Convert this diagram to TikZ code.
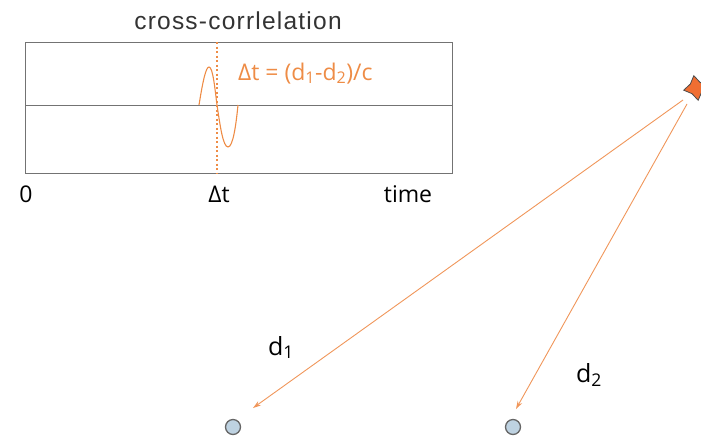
\documentclass[tikz,border=0pt]{standalone}
\usepackage{fontspec}
\setmainfont{Open Sans}
\newfontfamily\ttlfont[LetterSpace=5]{Liberation Sans}
\usetikzlibrary{arrows.meta,shapes.geometric}
\definecolor{org}{RGB}{238,140,70}
\definecolor{rayc}{RGB}{240,150,90}
\definecolor{starfill}{RGB}{240,110,50}
\definecolor{recfill}{RGB}{190,210,225}
\begin{document}
\begin{tikzpicture}[x=1pt,y=-1pt,
  lbl/.style={inner sep=0pt, anchor=base, font=\fontsize{23}{27}\selectfont},
  dlbl/.style={inner sep=0pt, anchor=base, font=\fontsize{25}{29}\selectfont},
  ttl/.style={inner sep=0pt, anchor=base, font=\ttlfont\fontsize{24.5}{28}\selectfont, text=black!80},
  ray/.style={draw=rayc, line width=0.9pt, -{Stealth[length=8pt,width=5pt]}},
  recv/.style={circle, draw=gray!80!black, fill=recfill, line width=1.3pt, minimum size=15pt, inner sep=0pt},
  src/.style={star, star points=4, star point ratio=1.8, draw=black!70, fill=starfill, line width=0.8pt, minimum size=25pt, inner sep=0pt}]
\useasboundingbox (0,0) rectangle (701,440);
% plot box
\draw[black!55, line width=0.6pt] (25,42) rectangle (452,173);
\draw[black!55, line width=0.6pt] (25,105) -- (452,105);
\draw[org, dash pattern=on 2pt off 2.5pt, line width=1.05pt] (217,42) -- (217,173);
\draw[org, line width=1.1pt] (199,105) .. controls (203,80) and (206,67) .. (209,67)
  .. controls (213,67) and (215,90) .. (217,105)
  .. controls (220,125) and (223,147) .. (228,147)
  .. controls (233,147) and (236,125) .. (238,105);
\node[ttl] (title) at (238,29) {cross-corrlelation};
\node[lbl] (zero) at (26,202) {0};
\node[lbl] (dt) at (219,202) {Δt};
\node[lbl] (time) at (408,202) {time};
\node[lbl, text=org, anchor=base west] (eq) at (238,80) {Δt = (d\textsubscript{1}-d\textsubscript{2})/c};
% source and receivers
\node[src, rotate=10] (s) at (696,88) {};
\node[recv] (r1) at (233,427) {};
\node[recv] (r2) at (513,427) {};
\coordinate (a1) at (253,408);
\coordinate (a2) at (516,409);
\draw[ray] (683,100) -- (a1);
\draw[ray] (687,104) -- (a2);
\node[dlbl] (d1) at (281,355) {d\textsubscript{1}};
\node[dlbl] (d2) at (589,382) {d\textsubscript{2}};
\end{tikzpicture}
\end{document}
